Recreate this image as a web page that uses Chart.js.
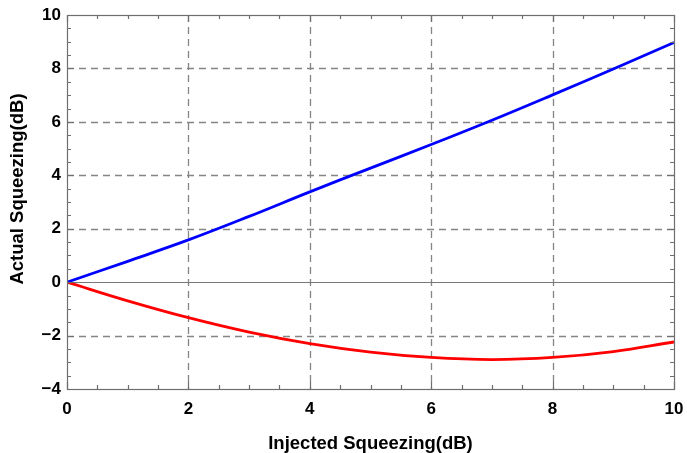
<!DOCTYPE html>
<html>
<head>
<meta charset="utf-8">
<script src="https://cdn.jsdelivr.net/npm/chart.js@4/dist/chart.umd.min.js"></script>
<style>
  html, body { margin: 0; padding: 0; background: #ffffff; }
  #wrap { width: 687px; height: 453px; }
</style>
</head>
<body>
<div id="wrap"><canvas id="c" width="687" height="453"></canvas></div>
<script>
// Injected squeezing (dB) sample points
const injectedDb = [0, 1, 2, 3, 4, 5, 6, 7, 8, 9, 10];
// Actual squeezing (dB) for each curve
const upperCurve = [0, 0.78, 1.58, 2.46, 3.38, 4.27, 5.15, 6.06, 7.01, 7.98, 8.97];
const lowerCurve = [0, -0.70, -1.33, -1.87, -2.30, -2.62, -2.82, -2.90, -2.82, -2.60, -2.24];

// Axis ranges and tick steps
const xRange = [0, 10];
const yRange = [-4, 10];
const majorStep = 2;
const minorStep = 0.5;

const xTitle = 'Injected Squeezing(dB)';
const yTitle = 'Actual Squeezing(dB)';

const toPoints = (ys) => injectedDb.map((x, i) => ({ x: x, y: ys[i] }));

function valuesBetween(min, max, step) {
  const out = [];
  const n = Math.round((max - min) / step);
  for (let i = 0; i <= n; i++) out.push(+(min + i * step).toFixed(6));
  return out;
}

const fontFamily = '"Liberation Sans", Arial, sans-serif';

// Dashed grid, solid zero line, gray frame with inward ticks, axis titles
const framePlugin = {
  id: 'frame',
  beforeDatasetsDraw(chart) {
    const { ctx, chartArea: a, scales: { x, y } } = chart;
    ctx.save();
    ctx.lineWidth = 1.3;
    ctx.strokeStyle = '#858585';
    ctx.setLineDash([7, 5]);
    valuesBetween(xRange[0], xRange[1], majorStep).forEach(v => {
      if (v === xRange[0] || v === xRange[1]) return;
      const px = Math.round(x.getPixelForValue(v)) + 0.5;
      ctx.beginPath(); ctx.moveTo(px, a.top); ctx.lineTo(px, a.bottom); ctx.stroke();
    });
    valuesBetween(yRange[0], yRange[1], majorStep).forEach(v => {
      if (v === yRange[0] || v === yRange[1] || v === 0) return;
      const py = Math.round(y.getPixelForValue(v)) + 0.5;
      ctx.beginPath(); ctx.moveTo(a.left, py); ctx.lineTo(a.right, py); ctx.stroke();
    });
    ctx.setLineDash([]);
    ctx.strokeStyle = '#777777';
    ctx.lineWidth = 1.2;
    const py0 = Math.round(y.getPixelForValue(0)) + 0.5;
    ctx.beginPath(); ctx.moveTo(a.left, py0); ctx.lineTo(a.right, py0); ctx.stroke();
    ctx.restore();
  },
  afterDatasetsDraw(chart) {
    const { ctx, chartArea: a, scales: { x, y } } = chart;
    ctx.save();
    ctx.strokeStyle = '#6e6e6e';
    ctx.lineWidth = 1.2;
    ctx.strokeRect(Math.round(a.left) + 0.5, Math.round(a.top) + 0.5,
                   Math.round(a.right - a.left), Math.round(a.bottom - a.top));
    const isMajor = (v) => Math.abs(v / majorStep - Math.round(v / majorStep)) < 1e-6;
    valuesBetween(xRange[0], xRange[1], minorStep).forEach(v => {
      const len = isMajor(v) ? 7 : 4;
      const px = Math.round(x.getPixelForValue(v)) + 0.5;
      ctx.beginPath();
      ctx.moveTo(px, a.bottom); ctx.lineTo(px, a.bottom - len);
      ctx.moveTo(px, a.top); ctx.lineTo(px, a.top + len);
      ctx.stroke();
    });
    valuesBetween(yRange[0], yRange[1], minorStep).forEach(v => {
      const len = isMajor(v) ? 7 : 4;
      const py = Math.round(y.getPixelForValue(v)) + 0.5;
      ctx.beginPath();
      ctx.moveTo(a.left, py); ctx.lineTo(a.left + len, py);
      ctx.moveTo(a.right, py); ctx.lineTo(a.right - len, py);
      ctx.stroke();
    });

    // axis titles
    ctx.fillStyle = '#000';
    ctx.font = 'bold 18.5px ' + fontFamily;
    ctx.textAlign = 'center';
    ctx.textBaseline = 'alphabetic';
    ctx.fillText(xTitle, (a.left + a.right) / 2, 448.5);
    ctx.translate(22.5, (a.top + a.bottom) / 2 - 13);
    ctx.rotate(-Math.PI / 2);
    ctx.fillText(yTitle, 0, 0);
    ctx.restore();
  }
};

const tickFont = { family: fontFamily, size: 17, weight: 'bold' };
const fmt = (v) => (v < 0 ? '\u2212' + Math.abs(v) : String(v));

new Chart(document.getElementById('c'), {
  type: 'line',
  data: {
    datasets: [
      { data: toPoints(upperCurve), borderColor: '#0000ff', borderWidth: 2.8, pointRadius: 0, tension: 0.4, fill: false },
      { data: toPoints(lowerCurve), borderColor: '#ff0000', borderWidth: 2.8, pointRadius: 0, tension: 0.4, fill: false }
    ]
  },
  options: {
    responsive: false,
    animation: false,
    devicePixelRatio: 1,
    layout: { padding: { top: 15, right: 13, left: 0, bottom: 0 } },
    plugins: { legend: { display: false }, tooltip: { enabled: false } },
    scales: {
      x: {
        type: 'linear', min: xRange[0], max: xRange[1],
        grid: { display: false, drawTicks: false },
        border: { display: false },
        ticks: { stepSize: majorStep, autoSkip: false, maxRotation: 0, color: '#000', font: tickFont, padding: 10, callback: fmt },
        title: { display: false },
        afterFit(s) { s.height = 64; s.paddingLeft = 0; s.paddingRight = 0; }
      },
      y: {
        type: 'linear', min: yRange[0], max: yRange[1],
        grid: { display: false, drawTicks: false },
        border: { display: false },
        ticks: { stepSize: majorStep, autoSkip: false, color: '#000', font: tickFont, padding: 6, callback: fmt },
        title: { display: false },
        afterFit(s) { s.width = 67; s.paddingTop = 0; s.paddingBottom = 0; }
      }
    }
  },
  plugins: [framePlugin]
});
</script>
</body>
</html>
